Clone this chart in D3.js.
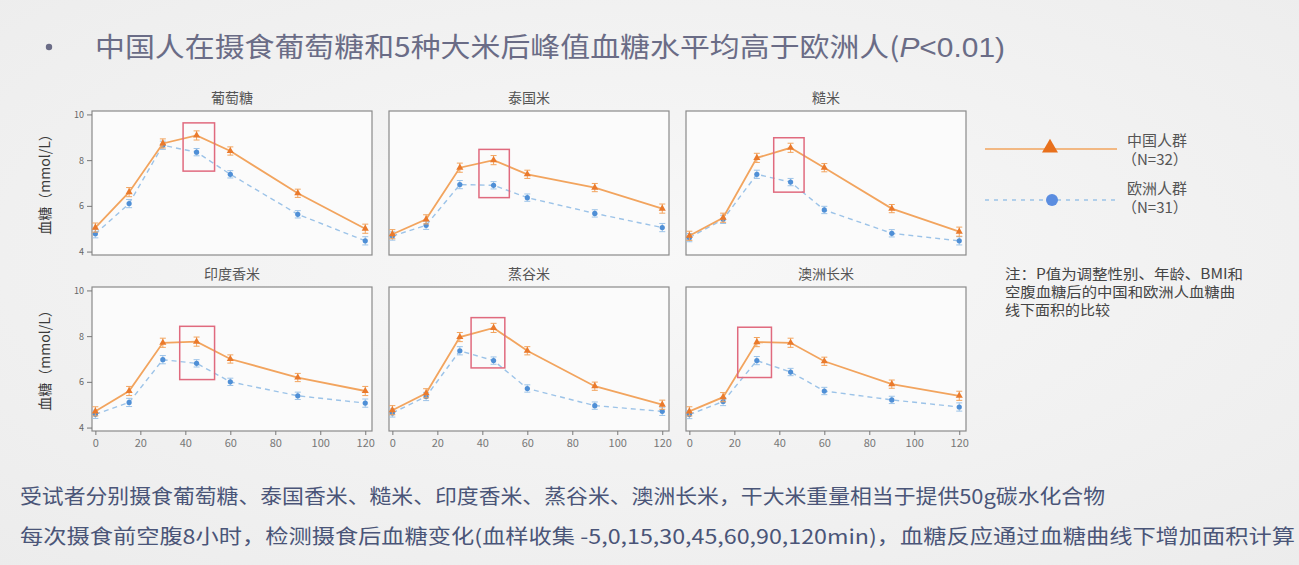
<!DOCTYPE html>
<html><head><meta charset="utf-8">
<script src="https://cdn.jsdelivr.net/npm/d3@7/dist/d3.min.js"></script>
<style>
html,body{margin:0;padding:0;background:#f2f2f2;}
svg{display:block;}
text{font-family:"Noto Sans CJK SC","Noto Sans",sans-serif;}
</style></head>
<body><svg id="c" width="1299" height="565"></svg>
<script>
// ---------- data ----------
const times = [0, 15, 30, 45, 60, 90, 120];
const xTicks = [0, 20, 40, 60, 80, 100, 120];
const yTicks = [4, 6, 8, 10];
const panelTitles = ["葡萄糖", "泰国米", "糙米", "印度香米", "蒸谷米", "澳洲长米"];
const chinese = [
  [5.05, 6.6, 8.73, 9.08, 8.4, 6.55, 5.0],
  [4.76, 5.41, 7.67, 8.0, 7.38, 6.8, 5.88],
  [4.69, 5.48, 8.1, 8.54, 7.67, 5.88, 4.87],
  [4.71, 5.6, 7.71, 7.76, 7.0, 6.19, 5.6],
  [4.76, 5.5, 7.96, 8.36, 7.36, 5.81, 5.0],
  [4.71, 5.33, 7.74, 7.71, 6.9, 5.9, 5.39]
];
const european = [
  [4.78, 6.1, 8.65, 8.35, 7.38, 5.63, 4.47],
  [4.68, 5.15, 6.93, 6.9, 6.36, 5.67, 5.05],
  [4.61, 5.41, 7.38, 7.04, 5.82, 4.8, 4.47],
  [4.58, 5.1, 6.97, 6.81, 6.0, 5.39, 5.07],
  [4.64, 5.36, 7.36, 6.93, 5.71, 4.96, 4.71],
  [4.57, 5.14, 6.93, 6.43, 5.6, 5.21, 4.9]
];
const chineseErr = [0.2, 0.2, 0.2, 0.2, 0.18, 0.18, 0.2];
const europeanErr = [0.18, 0.18, 0.18, 0.16, 0.16, 0.16, 0.18];
// highlight boxes: [t0, t1, vLow, vHigh]
const highlights = [
  [39, 53, 7.52, 9.63],
  [38.5, 52, 6.36, 8.47],
  [37.5, 51, 6.6, 8.98],
  [37.5, 53, 6.1, 8.43],
  [35, 50, 6.61, 8.81],
  [21.5, 36.5, 6.19, 8.39]
];
const legendLabels = [["中国人群", "（N=32）"], ["欧洲人群", "（N=31）"]];
const noteLines = ["注：P值为调整性别、年龄、BMI和", "空腹血糖后的中国和欧洲人血糖曲", "线下面积的比较"];
const titleText = "中国人在摄食葡萄糖和5种大米后峰值血糖水平均高于欧洲人(";
const bottomLines = [
  "受试者分别摄食葡萄糖、泰国香米、糙米、印度香米、蒸谷米、澳洲长米，干大米重量相当于提供50g碳水化合物",
  "每次摄食前空腹8小时，检测摄食后血糖变化(血样收集 -5,0,15,30,45,60,90,120min)，血糖反应通过血糖曲线下增加面积计算"
];
const yLabel = "血糖（mmol/L）";

// ---------- layout ----------
const svg = d3.select("#c");
const C_OR = "#f2a45e", C_ORM = "#ea7a2c", C_BL = "#9cc3e8", C_BLM = "#4f8fd6";
const colX = [92, 389, 686], rowY = [111, 287];
const W = 280, H = 144;

const defs = svg.append("defs");
const g0 = defs.append("radialGradient").attr("id","bg").attr("cx","50%").attr("cy","45%").attr("r","75%");
g0.append("stop").attr("offset","0%").attr("stop-color","#f8f8f8");
g0.append("stop").attr("offset","100%").attr("stop-color","#ececec");
svg.append("rect").attr("width",1299).attr("height",565).attr("fill","url(#bg)");

// title
svg.append("circle").attr("cx",49).attr("cy",47).attr("r",3.2).attr("fill","#6a6c86");
const title = svg.append("text").attr("x",95).attr("y",57).attr("font-size",27).attr("fill","#6a6c86")
  .attr("textLength",910).attr("lengthAdjust","spacingAndGlyphs");
title.append("tspan").text(titleText);
title.append("tspan").attr("font-style","italic").attr("font-family","Liberation Sans, Arial").text("P");
title.append("tspan").attr("font-family","Liberation Sans, Arial").text("<0.01)");

const x = d3.scaleLinear().domain([-1.5, 123]).range([0, W]);
const y = d3.scaleLinear().domain([3.85, 10.15]).range([H, 0]);
const line = d3.line().x((d,i)=>x(times[i])).y(d=>y(d));

panelTitles.forEach((name, p) => {
  const col = p % 3, row = Math.floor(p / 3);
  const g = svg.append("g").attr("transform", `translate(${colX[col]},${rowY[row]})`);
  g.append("rect").attr("width",W).attr("height",H).attr("fill","#fbfbfb").attr("stroke","#8a8a8a").attr("stroke-width",1.2);
  g.append("text").attr("x",W/2).attr("y",-8).attr("text-anchor","middle").attr("font-size",14).attr("fill","#555").text(name);

  if (col === 0) {
    const ya = g.append("g").call(d3.axisLeft(y).tickValues(yTicks).tickFormat(d3.format("d")).tickSize(5).tickPadding(3));
    ya.select(".domain").remove();
    ya.selectAll("line").attr("stroke","#777");
    ya.selectAll("text").attr("font-size",9).attr("fill","#666").attr("font-family","Liberation Sans, Arial");
    svg.append("text").attr("transform",`translate(${colX[col]-42},${rowY[row]+H/2 - 2}) rotate(-90)`)
      .attr("text-anchor","middle").attr("font-size",14).attr("fill","#3a3a3a").text(yLabel);
  }
  if (row === 1) {
    const xa = g.append("g").attr("transform",`translate(0,${H})`).call(d3.axisBottom(x).tickValues(xTicks).tickSize(4).tickPadding(4));
    xa.select(".domain").remove();
    xa.selectAll("line").attr("stroke","#777");
    xa.selectAll("text").attr("font-size",11).attr("fill","#777").attr("font-family","Liberation Sans, Arial");
  }

  // European series
  g.append("path").attr("d", line(european[p])).attr("fill","none").attr("stroke",C_BL).attr("stroke-width",1.4).attr("stroke-dasharray","5,4");
  european[p].forEach((v,i)=>{
    const cx = x(times[i]);
    g.append("line").attr("x1",cx).attr("x2",cx).attr("y1",y(v+europeanErr[i])).attr("y2",y(v-europeanErr[i])).attr("stroke",C_BL).attr("stroke-width",1);
    [v+europeanErr[i], v-europeanErr[i]].forEach(e=>g.append("line").attr("x1",cx-3).attr("x2",cx+3).attr("y1",y(e)).attr("y2",y(e)).attr("stroke",C_BL).attr("stroke-width",1));
    g.append("circle").attr("cx",cx).attr("cy",y(v)).attr("r",2.6).attr("fill",C_BLM);
  });
  // Chinese series
  g.append("path").attr("d", line(chinese[p])).attr("fill","none").attr("stroke",C_OR).attr("stroke-width",1.8);
  chinese[p].forEach((v,i)=>{
    const cx = x(times[i]);
    g.append("line").attr("x1",cx).attr("x2",cx).attr("y1",y(v+chineseErr[i])).attr("y2",y(v-chineseErr[i])).attr("stroke",C_OR).attr("stroke-width",1);
    [v+chineseErr[i], v-chineseErr[i]].forEach(e=>g.append("line").attr("x1",cx-3).attr("x2",cx+3).attr("y1",y(e)).attr("y2",y(e)).attr("stroke",C_OR).attr("stroke-width",1));
    g.append("path").attr("d", d3.symbol(d3.symbolTriangle, 22)()).attr("transform",`translate(${cx},${y(v)})`).attr("fill",C_ORM);
  });
  // highlight box
  const h = highlights[p];
  g.append("rect").attr("x",x(h[0])).attr("y",y(h[3])).attr("width",x(h[1])-x(h[0])).attr("height",y(h[2])-y(h[3]))
    .attr("fill","none").attr("stroke","#e06a7e").attr("stroke-width",1.5);
});

// legend
const lg = svg.append("g");
lg.append("line").attr("x1",985).attr("x2",1117).attr("y1",149).attr("y2",149).attr("stroke",C_OR).attr("stroke-width",1.5);
lg.append("path").attr("d", d3.symbol(d3.symbolTriangle, 110)()).attr("transform","translate(1050,148)").attr("fill","#e8701c");
lg.append("line").attr("x1",985).attr("x2",1117).attr("y1",200).attr("y2",200).attr("stroke",C_BL).attr("stroke-width",1.3).attr("stroke-dasharray","4,5");
lg.append("circle").attr("cx",1052).attr("cy",200).attr("r",6).attr("fill","#5b8de0");
legendLabels.forEach((lab,i)=>{
  const by = i===0 ? 146 : 194;
  lg.append("text").attr("x",1127).attr("y",by).attr("font-size",15).attr("fill","#555").text(lab[0]);
  lg.append("text").attr("x",1122).attr("y",by+19).attr("font-size",15).attr("fill","#555").text(lab[1]);
});
const noteLen = [238, 230, 105];
noteLines.forEach((t,i)=>{
  svg.append("text").attr("x",1005).attr("y",279+i*18).attr("font-size",14).attr("fill","#444")
    .attr("textLength",noteLen[i]).attr("lengthAdjust","spacingAndGlyphs").text(t);
});

// bottom lines
const bottomLen = [1085, 1275];
bottomLines.forEach((t,i)=>{
  svg.append("text").attr("x",20).attr("y",504+i*40).attr("font-size",20).attr("fill","#4a5578")
    .attr("textLength",bottomLen[i]).attr("lengthAdjust","spacingAndGlyphs").text(t);
});
</script></body></html>
